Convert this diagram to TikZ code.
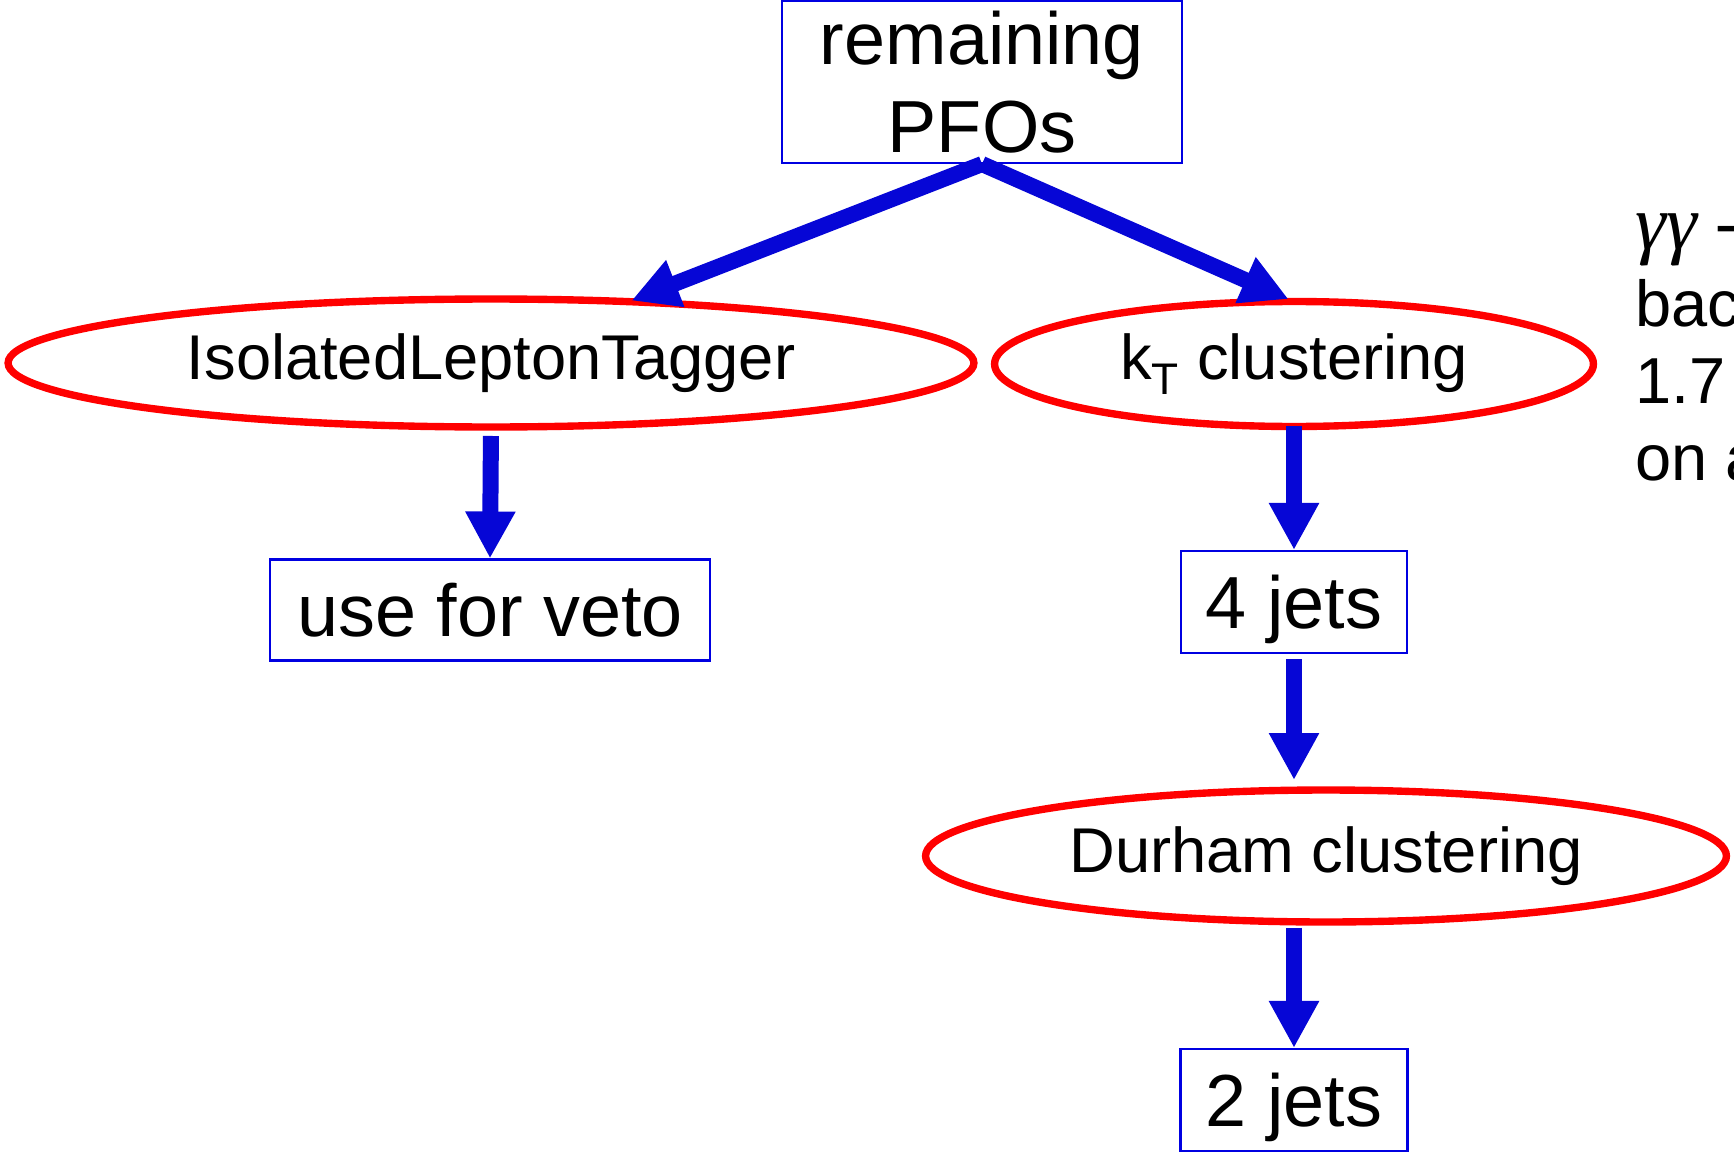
\documentclass[tikz,border=0pt]{standalone}
\usepackage{fontspec}
\setmainfont{Liberation Sans}
\newfontfamily\greekfont[Scale=1.2]{Liberation Serif}
\newfontfamily\symfont{DejaVu Sans}
\usepackage{xcolor}
\definecolor{flowblue}{RGB}{6,6,214}
\definecolor{boxblue}{RGB}{0,0,225}
\definecolor{algred}{RGB}{255,0,0}
\usetikzlibrary{arrows.meta,positioning,shapes.geometric}

\begin{document}
\begin{tikzpicture}[x=0.02cm,y=-0.02cm,
  databox/.style={draw=boxblue,line width=1.2pt,inner sep=0pt,align=center,
    font=\fontsize{42}{50}\selectfont},
  algo/.style={ellipse,draw=algred,line width=4.2pt,inner sep=0pt,outer sep=0pt,
    font=\fontsize{36}{43}\selectfont},
  flow/.style={draw=flowblue,line width=0.32cm,
    -{Triangle[length=0.94cm,width=0.94cm]}}
]
  \useasboundingbox (0,0) rectangle (1734,1152);
  \clip (0,0) rectangle (1734,1152);
  % input collection
  \node[databox,minimum width=8.0cm,minimum height=3.24cm] (pfos) at (982,82)
    {remaining\\PFOs};
  % lepton tagging branch
  \node[algo,minimum width=19.32cm,minimum height=2.56cm] (ilt) at (491,363)
    {IsolatedLeptonTagger};
  \node[databox,minimum width=8.8cm,minimum height=2.02cm] (veto) at (490,610)
    {use for veto};
  % jet clustering branch
  \node[algo,minimum width=11.98cm,minimum height=2.5cm] (kt) at (1294,364)
    {k\textsubscript{T} clustering};
  \node[databox,text depth=0pt,minimum width=4.52cm,minimum height=2.04cm] (fourjets) at (1294,602)
    {4 jets};
  \node[algo,minimum width=16.02cm,minimum height=2.64cm] (durham) at (1326,856)
    {Durham clustering};
  \node[databox,text depth=0pt,minimum width=4.54cm,minimum height=2.04cm] (twojets) at (1294,1100)
    {2 jets};
  % side note
  \node[anchor=base west,align=left,inner sep=0pt,
    font=\fontsize{37}{43.8}\selectfont] (note) at (1635,480)
    {{\greekfont\itshape γγ} {\symfont →} hadrons\\background\\1.7\\on average};
  % arrows
  \draw[flow,shorten >=0.06cm] (pfos.south) -- (ilt.24);
  \draw[flow,shorten >=0.12cm] (pfos.south) -- (kt.north);
  \draw[flow,shorten <=0.18cm] (ilt.south) -- (veto.north);
  \draw[flow] (kt.south) -- (fourjets.north);
  \draw[flow,shorten <=0.1cm,shorten >=0.2cm] (fourjets.south) -- (fourjets.south |- durham.north);
  \draw[flow,shorten <=0.12cm] (durham.south -| twojets) -- (twojets.north);
\end{tikzpicture}
\end{document}
